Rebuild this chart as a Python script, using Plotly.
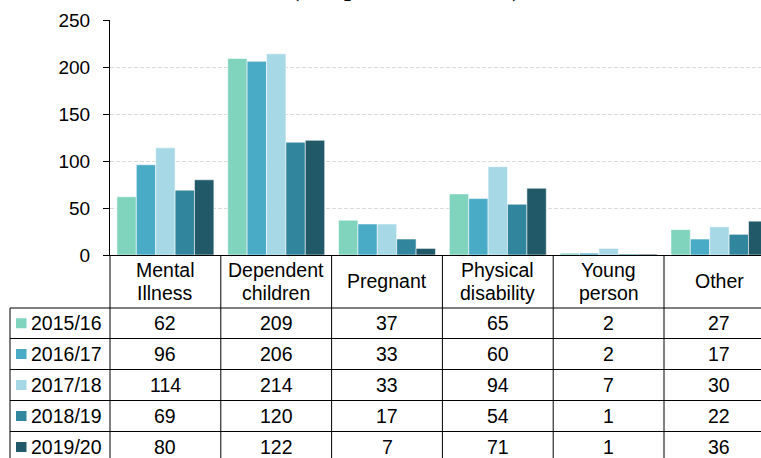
import plotly.graph_objects as go

categories = ["Mental<br>Illness", "Dependent<br>children", "Pregnant",
              "Physical<br>disability", "Young<br>person", "Other"]
years = ["2015/16", "2016/17", "2017/18", "2018/19", "2019/20"]
v2015 = [62, 209, 37, 65, 2, 27]
v2016 = [96, 206, 33, 60, 2, 17]
v2017 = [114, 214, 33, 94, 7, 30]
v2018 = [69, 120, 17, 54, 1, 22]
v2019 = [80, 122, 7, 71, 1, 36]
series = [v2015, v2016, v2017, v2018, v2019]
colors = ["#80D3BD", "#4AABC6", "#A6D8E6", "#31859C", "#215968"]
y_ticks = [0, 50, 100, 150, 200, 250]
title_text = "(accepted households)"

W, H = 761, 458
AX_LEFT, AX_TOP, AX_BOTTOM = 110, 20, 255  # pixels
ML = AX_LEFT
MT = AX_TOP
MB = H - AX_BOTTOM
MR = 0
PW = W - ML - MR
PH = H - MT - MB
CAT_W = 110.8
r0 = -0.5
r1 = r0 + PW / CAT_W

FONT = "Liberation Sans, Arial, sans-serif"


def px_x(p):
    return (p - AX_LEFT) / PW


def px_y(q):
    return (AX_BOTTOM - q) / PH


def cat_x(v):
    return (v - r0) / (r1 - r0)


fig = go.Figure()
for name, vals, col in zip(years, series, colors):
    fig.add_trace(go.Bar(
        x=list(range(len(categories))), y=vals, name=name,
        marker=dict(color=col, line=dict(color="rgba(255,255,255,0.55)", width=1)),
        showlegend=False, hoverinfo="skip",
    ))

shapes = []
annotations = []
line = dict(color="black", width=1)

header_top = AX_BOTTOM
row_lines = [308, 338.5, 369.5, 400.5, 431.5, 462.5]
left_px = 10

for i in range(len(categories)):
    xb = cat_x(i - 0.5)
    shapes.append(dict(type="line", xref="paper", yref="paper",
                       x0=xb, x1=xb, y0=px_y(header_top), y1=px_y(row_lines[-1]), line=line))
shapes.append(dict(type="line", xref="paper", yref="paper",
                   x0=px_x(left_px), x1=px_x(left_px), y0=px_y(row_lines[0]), y1=px_y(row_lines[-1]), line=line))
for q in row_lines:
    shapes.append(dict(type="line", xref="paper", yref="paper",
                       x0=px_x(left_px), x1=1.05, y0=px_y(q), y1=px_y(q), line=line))

for i, c in enumerate(categories):
    parts = c.split("<br>")
    ys = [281] if len(parts) == 1 else [270, 292.5]
    for part, yy in zip(parts, ys):
        annotations.append(dict(x=i, xref="x", y=px_y(yy), yref="paper", text=part,
                                showarrow=False, xanchor="center", yanchor="middle",
                                font=dict(family=FONT, size=19.5, color="black")))

for r, (name, vals, col) in enumerate(zip(years, series, colors)):
    yc = (row_lines[r] + row_lines[r + 1]) / 2
    shapes.append(dict(type="rect", xref="paper", yref="paper",
                       x0=px_x(16), x1=px_x(26.5), y0=px_y(yc - 5), y1=px_y(yc + 5),
                       fillcolor=col, line=dict(width=0)))
    annotations.append(dict(x=px_x(29), xref="paper", y=px_y(yc), yref="paper", text=name,
                            showarrow=False, xanchor="left", yanchor="middle",
                            font=dict(family=FONT, size=19.5, color="black")))
    for i, v in enumerate(vals):
        annotations.append(dict(x=i, xref="x", y=px_y(yc), yref="paper", text=str(v),
                                showarrow=False, xanchor="center", yanchor="middle",
                                font=dict(family=FONT, size=19.5, color="black")))

# title: only its lower edge is visible at the top of the picture
annotations.append(dict(x=px_x(405), xref="paper", y=px_y(4), yref="paper", text="<b>" + title_text + "</b>",
                        showarrow=False, xanchor="center", yanchor="bottom",
                        font=dict(family="Liberation Serif, Times New Roman, serif", size=24.5, color="black")))

fig.update_layout(
    width=W, height=H,
    margin=dict(l=ML, r=MR, t=MT, b=MB, pad=0),
    paper_bgcolor="white", plot_bgcolor="white",
    barmode="group", bargap=0.125, bargroupgap=0,
    shapes=shapes, annotations=annotations,
    font=dict(family=FONT, size=19, color="black"),
    hovermode=False,
)
fig.update_xaxes(range=[r0, r1], showticklabels=False, ticks="", showgrid=False,
                 showline=True, linecolor="black", linewidth=1, zeroline=False)
fig.update_yaxes(range=[0, 250], tickvals=y_ticks, ticks="outside", ticklen=6,
                 tickcolor="black", tickwidth=1, showline=True, linecolor="black", linewidth=1,
                 showgrid=True, gridcolor="#dcdcdc", griddash="4px,2px", gridwidth=1,
                 zeroline=False, ticklabelstandoff=9,
                 tickfont=dict(family=FONT, size=19, color="black"))

fig.write_html("out.html", config={"displayModeBar": False},
               post_script="document.body.style.margin='0';document.body.style.overflow='hidden';")
